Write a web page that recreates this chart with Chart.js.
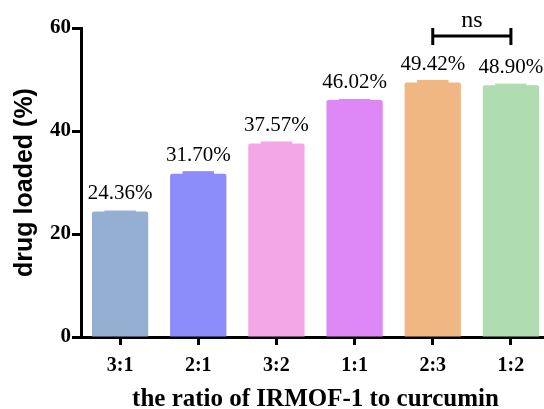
<!DOCTYPE html>
<html>
<head>
<meta charset="utf-8">
<script src="https://cdn.jsdelivr.net/npm/chart.js@4"></script>
<style>
  html, body { margin: 0; padding: 0; background: #fff; overflow: hidden; }
  #wrap { width: 544px; height: 409px; overflow: hidden; }
</style>
</head>
<body>
<div id="wrap"><canvas id="myChart" width="552" height="409"></canvas></div>
<script>
const ratios = ['3:1', '2:1', '3:2', '1:1', '2:3', '1:2'];
const drugLoaded = [24.36, 31.70, 37.57, 46.02, 49.42, 48.90];
const errors = [0.2, 0.5, 0.4, 0.2, 0.5, 0.3];
const valueLabels = ['24.36%', '31.70%', '37.57%', '46.02%', '49.42%', '48.90%'];
const barColors = ['#95afd3', '#8c8cfa', '#f3a7e6', '#dd88f6', '#f0b782', '#afdcb1'];
const yTicks = [0, 20, 40, 60];

const serif = '"Liberation Serif", "Times New Roman", serif';

const labelsPlugin = {
  id: 'labels',
  afterDatasetsDraw(chart) {
    const ctx = chart.ctx;
    const y = chart.scales.y;
    const meta = chart.getDatasetMeta(0);
    ctx.save();
    meta.data.forEach((bar, i) => {
      // small error cap on top of bar
      const top = y.getPixelForValue(drugLoaded[i] + errors[i]);
      const half = bar.width * 0.28;
      ctx.fillStyle = barColors[i];
      ctx.fillRect(bar.x - half, top, half * 2, bar.y - top + 2);
      // value label
      ctx.fillStyle = '#000';
      ctx.font = '21px ' + serif;
      ctx.textAlign = 'center';
      ctx.textBaseline = 'middle';
      ctx.fillText(valueLabels[i], bar.x, bar.y - 18);
    });
    // ns bracket between 2:3 and 1:2
    const a = meta.data[4].x, b = meta.data[5].x;
    const by = 36;
    ctx.strokeStyle = '#000';
    ctx.lineWidth = 3;
    ctx.beginPath();
    ctx.moveTo(a, by); ctx.lineTo(b, by);
    ctx.moveTo(a, by - 8); ctx.lineTo(a, by + 9);
    ctx.moveTo(b, by - 8); ctx.lineTo(b, by + 9);
    ctx.stroke();
    ctx.font = '24px ' + serif;
    ctx.fillText('ns', (a + b) / 2, 21);
    ctx.restore();
  }
};

new Chart(document.getElementById('myChart'), {
  type: 'bar',
  data: {
    labels: ratios,
    datasets: [{
      data: drugLoaded,
      backgroundColor: barColors,
      borderWidth: 0,
      borderRadius: 2,
      borderSkipped: 'bottom',
      categoryPercentage: 1,
      barPercentage: 0.72
    }]
  },
  options: {
    responsive: false,
    animation: false,
    layout: { padding: { top: 28, right: 2, left: 10, bottom: 0 } },
    plugins: { legend: { display: false }, tooltip: { enabled: false } },
    scales: {
      x: {
        afterFit: s => { s.height = 72; },
        border: { display: true, color: '#000', width: 3 },
        grid: { display: true, drawOnChartArea: false, drawTicks: true, tickLength: 8, tickColor: '#000', tickWidth: 3, offset: false },
        ticks: { color: '#000', font: { family: serif, size: 20, weight: 'bold' }, padding: 9 },
        title: {
          display: true,
          text: 'the ratio of IRMOF-1 to curcumin',
          color: '#000',
          font: { family: serif, size: 25, weight: 'bold' },
          padding: { top: 2, bottom: -6 }
        }
      },
      y: {
        min: 0,
        max: 60,
        afterFit: s => { s.width = 71; },
        afterBuildTicks: s => { s.ticks = yTicks.map(v => ({ value: v })); },
        border: { display: true, color: '#000', width: 3 },
        grid: { display: true, drawOnChartArea: false, drawTicks: true, tickLength: 9, tickColor: '#000', tickWidth: 3 },
        ticks: { color: '#000', font: { family: serif, size: 21, weight: 'bold' }, padding: 1 },
        title: {
          display: true,
          text: 'drug loaded (%)',
          color: '#000',
          font: { family: '"Liberation Sans", Arial, sans-serif', size: 25, weight: 'bold' },
          padding: { top: 0, bottom: 0 }
        }
      }
    }
  },
  plugins: [labelsPlugin]
});
</script>
</body>
</html>
